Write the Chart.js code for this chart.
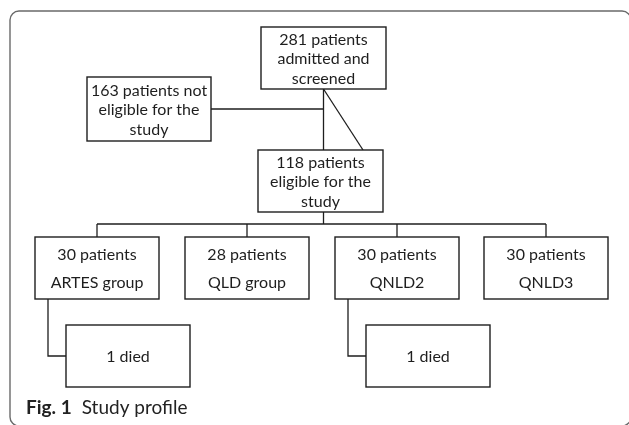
<!DOCTYPE html>
<html>
<head>
<meta charset="utf-8">
<script src="https://cdn.jsdelivr.net/npm/chart.js@4"></script>
<style>
  html, body { margin: 0; padding: 0; background: #fff; }
  #wrap { width: 629px; height: 425px; }
</style>
</head>
<body>
<div id="wrap"><canvas id="flow" width="629" height="425"></canvas></div>
<script>
// ---- data ----
const screenedCount = 281;
const notEligibleCount = 163;
const eligibleCount = 118;
const groupNames = ['ARTES group', 'QLD group', 'QNLD2', 'QNLD3'];
const groupCounts = [30, 28, 30, 30];
const groupDeaths = [1, 0, 1, 0];
const captionLabel = 'Fig. 1';
const captionText = 'Study profile';

// ---- layout (in axis units, axis = 0..629 x 0..425) ----
const LAYOUT = {
    screened:    { x1: 261, y1: 27,  x2: 386, y2: 89 },
    notEligible: { x1: 87,  y1: 77,  x2: 211, y2: 141 },
    eligible:    { x1: 258, y1: 150, x2: 383, y2: 212 },
    groupTop: 237, groupBottom: 299, groupWidth: 124,
    groupLeft: [35, 185, 335, 484],
    busY: 224,
    diedTop: 325, diedBottom: 387, diedOffset: 31, diedWidth: 124, diedElbow: 13,
    trunkX: 323.5,
    lineGap: 19.5
};

const INK = '#1e1e1e';
const BOX_FONT = '16px Lato, "Open Sans", sans-serif';

// build boxes from the data + layout
function buildBoxes() {
    const boxes = [];
    boxes.push({ r: LAYOUT.screened, lines: [screenedCount + ' patients', 'admitted and', 'screened'], gap: LAYOUT.lineGap });
    boxes.push({ r: LAYOUT.notEligible, lines: [notEligibleCount + ' patients not', 'eligible for the', 'study'], gap: LAYOUT.lineGap });
    boxes.push({ r: LAYOUT.eligible, lines: [eligibleCount + ' patients', 'eligible for the', 'study'], gap: LAYOUT.lineGap });
    groupNames.forEach((name, i) => {
        const x1 = LAYOUT.groupLeft[i];
        boxes.push({
            r: { x1: x1, y1: LAYOUT.groupTop, x2: x1 + LAYOUT.groupWidth, y2: LAYOUT.groupBottom },
            lines: [groupCounts[i] + ' patients', name], gap: 28
        });
        if (groupDeaths[i] > 0) {
            const dx = x1 + LAYOUT.diedOffset;
            boxes.push({
                r: { x1: dx, y1: LAYOUT.diedTop, x2: dx + LAYOUT.diedWidth, y2: LAYOUT.diedBottom },
                lines: [groupDeaths[i] + ' died'], gap: 0
            });
        }
    });
    return boxes;
}

function buildConnectors() {
    const segs = [];
    const A = LAYOUT.screened, B = LAYOUT.notEligible, C = LAYOUT.eligible;
    const tx = LAYOUT.trunkX;
    segs.push([[tx, A.y2], [tx, C.y1]]);
    segs.push([[B.x2, (B.y1 + B.y2) / 2], [tx, (B.y1 + B.y2) / 2]]);
    segs.push([[tx, A.y2], [363, C.y1]]);
    segs.push([[tx, C.y2], [tx, LAYOUT.busY]]);
    const centers = LAYOUT.groupLeft.map(x => x + LAYOUT.groupWidth / 2);
    segs.push([[centers[0], LAYOUT.busY], [centers[centers.length - 1], LAYOUT.busY]]);
    centers.forEach(cx => segs.push([[cx, LAYOUT.busY], [cx, LAYOUT.groupTop]]));
    groupDeaths.forEach((d, i) => {
        if (d > 0) {
            const ex = LAYOUT.groupLeft[i] + LAYOUT.diedElbow;
            const my = (LAYOUT.diedTop + LAYOUT.diedBottom) / 2;
            segs.push([[ex, LAYOUT.groupBottom], [ex, my], [LAYOUT.groupLeft[i] + LAYOUT.diedOffset, my]]);
        }
    });
    return segs;
}

const flowPlugin = {
    id: 'flowchart',
    afterDatasetsDraw(chart) {
        const ctx = chart.ctx;
        const sx = chart.scales.x, sy = chart.scales.y;
        const px = v => sx.getPixelForValue(v);
        const py = v => sy.getPixelForValue(v);
        ctx.save();

        // outer rounded frame
        ctx.strokeStyle = '#6a6a6a';
        ctx.lineWidth = 1.4;
        ctx.beginPath();
        ctx.roundRect(px(10), py(11), px(631) - px(10), py(426) - py(11), 9);
        ctx.stroke();

        // connectors
        ctx.strokeStyle = INK;
        ctx.lineWidth = 1.3;
        buildConnectors().forEach(seg => {
            ctx.beginPath();
            seg.forEach((p, k) => k ? ctx.lineTo(px(p[0]), py(p[1])) : ctx.moveTo(px(p[0]), py(p[1])));
            ctx.stroke();
        });

        // boxes
        ctx.font = BOX_FONT;
        ctx.textAlign = 'center';
        ctx.textBaseline = 'middle';
        buildBoxes().forEach(b => {
            const r = b.r;
            ctx.fillStyle = '#fff';
            ctx.fillRect(px(r.x1), py(r.y1), px(r.x2) - px(r.x1), py(r.y2) - py(r.y1));
            ctx.strokeStyle = INK;
            ctx.lineWidth = 1.4;
            ctx.strokeRect(px(r.x1), py(r.y1), px(r.x2) - px(r.x1), py(r.y2) - py(r.y1));
            ctx.fillStyle = INK;
            const cx = (r.x1 + r.x2) / 2, cy = (r.y1 + r.y2) / 2;
            const n = b.lines.length;
            b.lines.forEach((t, k) => {
                ctx.fillText(t, px(cx), py(cy + (k - (n - 1) / 2) * b.gap) + 1);
            });
        });

        // caption
        ctx.textAlign = 'left';
        ctx.textBaseline = 'alphabetic';
        ctx.fillStyle = '#222';
        ctx.font = 'bold 19px Lato, "Open Sans", sans-serif';
        ctx.fillText(captionLabel, px(26), py(414));
        const w = ctx.measureText(captionLabel).width;
        ctx.font = '19px Lato, "Open Sans", sans-serif';
        ctx.fillText(captionText, px(26) + w + 10, py(414));
        ctx.restore();
    }
};

new Chart(document.getElementById('flow'), {
    type: 'scatter',
    data: { datasets: [{ data: [], pointRadius: 0 }] },
    options: {
        responsive: false,
        animation: false,
        layout: { padding: 0 },
        plugins: { legend: { display: false }, tooltip: { enabled: false } },
        scales: {
            x: { type: 'linear', min: 0, max: 629, display: false },
            y: { type: 'linear', min: 0, max: 425, reverse: true, display: false }
        }
    },
    plugins: [flowPlugin]
});
</script>
</body>
</html>
